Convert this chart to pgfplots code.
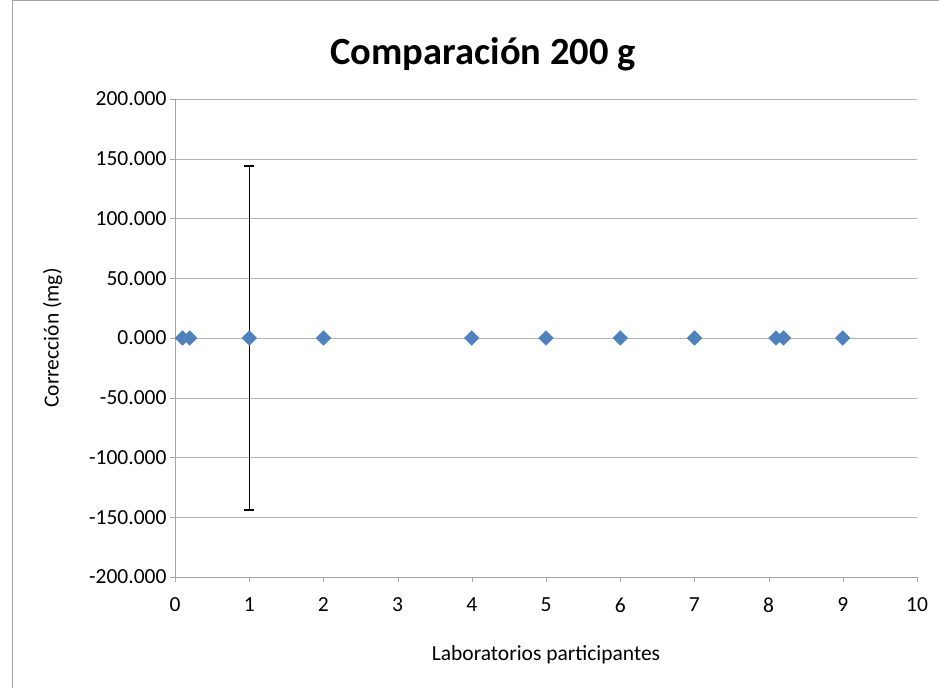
\documentclass[border=0pt]{standalone}
\usepackage{pgfplots}
\pgfplotsset{compat=1.18}
\usepackage{fontspec}
\setmainfont{Carlito}
\begin{document}
\begin{tikzpicture}[x=1pt,y=1pt]
\path[use as bounding box] (0,0) rectangle (939,688);
\draw[gray!70] (12,0) -- (12,687.5) -- (939,687.5);
\node[font=\fontsize{38.5}{44}\selectfont\bfseries] at (483,634) {Comparación 200 g};
\begin{axis}[at={(175pt,111pt)}, anchor=south west, scale only axis,
  width=742pt, height=478pt,
  xmin=0, xmax=10, ymin=-200, ymax=200,
  xtick={0,...,10}, ytick={-200,-150,...,200},
  xticklabels={0,1,2,3,4,5,6,7,8,9,10},
  yticklabels={-200.000,-150.000,-100.000,-50.000,0.000,50.000,100.000,150.000,200.000},
  ymajorgrids, grid style={gray!60},
  axis line style={gray!70}, axis x line*=bottom, axis y line*=left,
  tick style={gray!70}, tick align=outside, major tick length=5pt,
  ticklabel style={font=\fontsize{21.5}{24}\selectfont},
  xticklabel style={yshift=-12pt},
  xlabel={Laboratorios participantes}, ylabel={Corrección (mg)},
  label style={font=\fontsize{21.5}{24}\selectfont},
  xlabel style={yshift=-26pt}, ylabel style={yshift=20pt},
  /pgf/number format/assume math mode=true]
\addplot[only marks, mark=square*, mark size=5.2pt, mark options={rotate=45}, color={rgb,255:red,79;green,129;blue,189},
  error bars/.cd, y dir=both, y explicit, error bar style={black, line width=1.3pt}, error mark options={black, line width=1.3pt, mark size=5pt, rotate=90}]
  coordinates {(0.1,0) (0.2,0) (1,0) +- (0,144) (2,0) (4,0) (5,0) (6,0) (7,0) (8.1,0) (8.2,0) (9,0)};
\end{axis}
\end{tikzpicture}
\end{document}
